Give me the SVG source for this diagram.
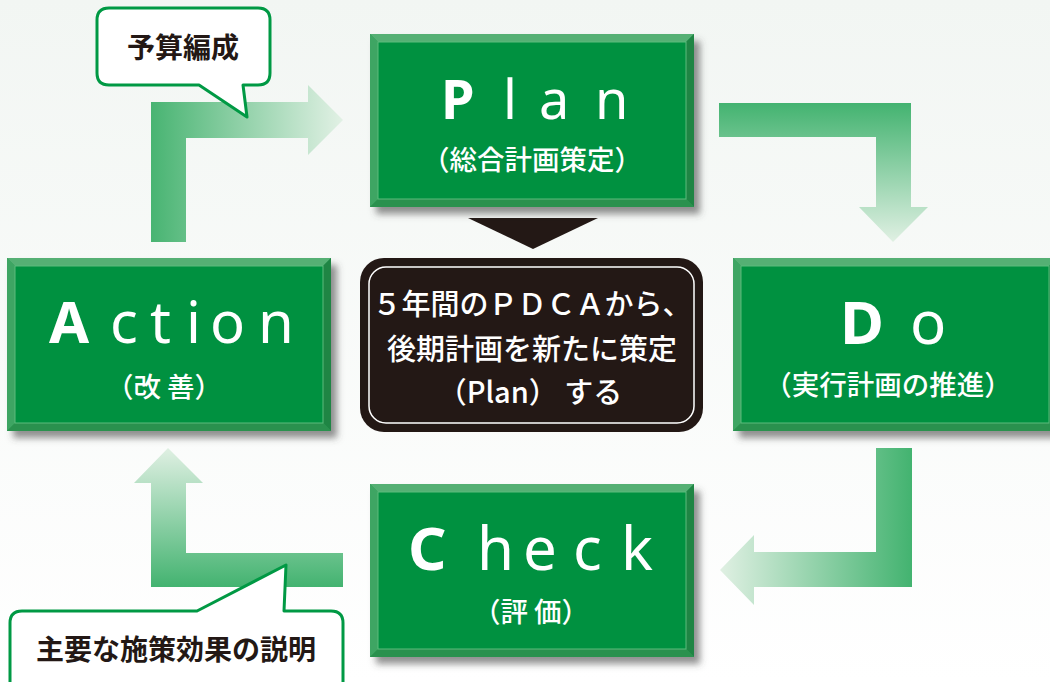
<svg xmlns="http://www.w3.org/2000/svg" xmlns:xlink="http://www.w3.org/1999/xlink" width="1050" height="682" viewBox="0 0 1050 682">
<defs>
<style>
.big{font-family:"Noto Sans","Noto Sans CJK JP",sans-serif;fill:#fff;}
.cap{font-weight:bold;}
.low{font-weight:normal;}
.sub{font-family:"Noto Sans CJK JP",sans-serif;font-size:27.5px;fill:#fff;font-weight:500;text-anchor:middle;}
.ctr{font-family:"Noto Sans CJK JP",sans-serif;font-size:29px;fill:#fff;font-weight:500;text-anchor:middle;}
.bub{font-family:"Noto Sans CJK JP",sans-serif;font-size:28px;fill:#231815;font-weight:bold;text-anchor:middle;}
.bubshape{fill:#fff;stroke:#009944;stroke-width:3;stroke-linejoin:round;}
</style>
<linearGradient id="bg" x1="0" y1="0" x2="0" y2="1">
<stop offset="0" stop-color="#f2f6f3"/>
<stop offset="1" stop-color="#ffffff"/>
</linearGradient>
<linearGradient id="gTL" gradientUnits="userSpaceOnUse" x1="151" y1="0" x2="343" y2="0">
<stop offset="0" stop-color="#48b472"/>
<stop offset="1" stop-color="#e2f1e5"/>
</linearGradient>
<linearGradient id="gTR" gradientUnits="userSpaceOnUse" x1="0" y1="103" x2="0" y2="242">
<stop offset="0" stop-color="#43b370"/>
<stop offset="1" stop-color="#e0f0e3"/>
</linearGradient>
<linearGradient id="gBR" gradientUnits="userSpaceOnUse" x1="912" y1="0" x2="720" y2="0">
<stop offset="0" stop-color="#43b370"/>
<stop offset="1" stop-color="#e0f0e3"/>
</linearGradient>
<linearGradient id="gBL" gradientUnits="userSpaceOnUse" x1="0" y1="587" x2="0" y2="448">
<stop offset="0" stop-color="#43b370"/>
<stop offset="1" stop-color="#e0f0e3"/>
</linearGradient>
<filter id="sh" x="-10%" y="-10%" width="125%" height="130%">
<feDropShadow dx="6" dy="7" stdDeviation="3.5" flood-color="#4a4a4a" flood-opacity="0.6"/>
</filter>
<g id="box">
<rect x="0" y="0" width="324" height="173" fill="#2e9a55" filter="url(#sh)"/>
<polygon points="0,0 324,0 316,8 8,8" fill="#55b074"/>
<polygon points="0,0 8,8 8,165 0,173" fill="#3ea563"/>
<polygon points="324,0 324,173 316,165 316,8" fill="#1f8544"/>
<polygon points="0,173 8,165 316,165 324,173" fill="#2a914e"/>
<rect x="8" y="8" width="308" height="157" fill="#009140" stroke="#5dbb7d" stroke-width="1"/>
</g>
</defs>
<rect x="0" y="0" width="1050" height="682" fill="url(#bg)"/>

<g id="connectors">
<polygon points="151,242 151,102 308,102 308,85 343,120 308,155 308,138 186,138 186,242" fill="url(#gTL)"/>
<polygon points="719,103 911,103 911,207 928,207 893,242 859,207 876,207 876,137 719,137" fill="url(#gTR)"/>
<polygon points="912,448 912,587 754,587 754,605 720,570 754,535 754,552 876,552 876,448" fill="url(#gBR)"/>
<polygon points="343,587 151,587 151,483 134,483 168,448 203,483 186,483 186,553 343,553" fill="url(#gBL)"/>
<polygon points="468,218 598,218 533,249" fill="#231815"/>
</g>

<g id="plan">
<use xlink:href="#box" x="370" y="34"/>
<text class="big" font-size="54" y="119"><tspan class="cap" x="441">P</tspan><tspan class="low" x="503">l</tspan><tspan class="low" x="539">a</tspan><tspan class="low" x="595">n</tspan></text>
<text class="sub" x="532" y="170">（総合計画策定）</text>
</g>

<g id="action">
<use xlink:href="#box" x="7" y="258"/>
<text class="big" font-size="58" y="343"><tspan class="cap" x="49">A</tspan><tspan class="low" x="110">c</tspan><tspan class="low" x="150">t</tspan><tspan class="low" x="186">i</tspan><tspan class="low" x="210">o</tspan><tspan class="low" x="258">n</tspan></text>
<text class="sub" x="164" y="397">（改 善）</text>
</g>

<g id="do">
<use xlink:href="#box" x="733" y="258"/>
<text class="big" font-size="60" y="344"><tspan class="cap" x="840">D</tspan><tspan class="low" x="910">o</tspan></text>
<text class="sub" x="888" y="395">（実行計画の推進）</text>
</g>

<g id="check">
<use xlink:href="#box" x="370" y="484"/>
<text class="big" font-size="60" y="570"><tspan class="cap" x="408">C</tspan><tspan class="low" x="477">h</tspan><tspan class="low" x="523">e</tspan><tspan class="low" x="573">c</tspan><tspan class="low" x="621">k</tspan></text>
<text class="sub" x="531" y="622">（評 価）</text>
</g>

<g id="center">
<rect x="360" y="258" width="343" height="174" rx="24" ry="24" fill="#231815"/>
<rect x="369" y="267" width="325" height="156" rx="17" ry="17" fill="none" stroke="#ffffff" stroke-width="1.5"/>
<text class="ctr" x="532" y="315">５年間のＰＤＣＡから、</text>
<text class="ctr" x="532" y="360">後期計画を新たに策定</text>
<text class="ctr" x="530" y="403">（Plan） する</text>
</g>

<g id="bubble-budget">
<path class="bubshape" d="M109,8 H258 Q270,8 270,20 V73 Q270,85 258,85 H243 L247,117 L199,85 H109 Q97,85 97,73 V20 Q97,8 109,8 Z"/>
<text class="bub" x="183" y="58">予算編成</text>
</g>

<g id="bubble-effect">
<path class="bubshape" d="M22,611 H197 L286,565 L284,611 H331 Q343,611 343,623 V700 H10 V623 Q10,611 22,611 Z"/>
<text class="bub" x="176" y="660">主要な施策効果の説明</text>
</g>
</svg>
